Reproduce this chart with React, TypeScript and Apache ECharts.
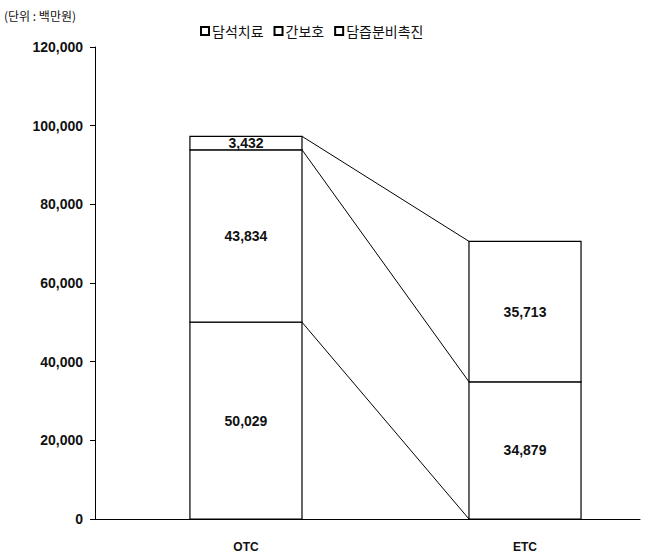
import { useEffect, useRef } from "react";
import * as echarts from "echarts";

const categories = ["OTC", "ETC"];
const seriesNames = ["담석치료", "간보호", "담즙분비촉진"];
const otcValues = [50029, 43834, 3432];
const etcValues = [34879, 35713, 0];
const barCenters = [0.277, 0.789];
const halfWidth = 0.1028;

const fmt = (v: number) => v.toLocaleString("en-US");

const App = () => {
  const ref = useRef<HTMLDivElement>(null);

  useEffect(() => {
    if (!ref.current) return;
    const chart = echarts.init(ref.current, null, { renderer: "svg" });

    const segments: number[][] = [];
    [otcValues, etcValues].forEach((vals, ci) => {
      let base = 0;
      vals.forEach((v, si) => {
        if (v > 0) segments.push([barCenters[ci], base, base + v, v, si]);
        base += v;
      });
    });
    const cum = (vals: number[], n: number) =>
      vals.slice(0, n).reduce((a, b) => a + b, 0);
    const links = [0, 1, 2].map((i) => [
      [barCenters[0] + halfWidth, cum(otcValues, i + 1)],
      [barCenters[1] - halfWidth, cum(etcValues, i)],
    ]);

    const font = "'Liberation Sans', Arial, sans-serif";

    chart.setOption({
      animation: false,
      backgroundColor: "#fff",
      grid: { left: 95, right: 13, top: 47, bottom: 41 },
      legend: {
        top: 19,
        left: 195,
        icon: "rect",
        itemWidth: 8,
        itemHeight: 8,
        itemGap: 10,
        textStyle: { fontFamily: "'Noto Sans CJK KR'", fontSize: 14, color: "#111", padding: [0, 0, 0, -2] },
        data: seriesNames,
      },
      graphic: [
        {
          type: "text",
          left: 4,
          top: 9,
          style: { text: "(단위 : 백만원)", fontFamily: "'Noto Sans CJK KR'", fontSize: 12, fill: "#111" },
        },
      ],
      xAxis: {
        type: "value",
        min: 0,
        max: 1,
        splitLine: { show: false },
        axisLine: { show: true, lineStyle: { color: "#000" } },
        axisTick: { show: false },
        axisLabel: {
          customValues: barCenters,
          formatter: (v: number) => categories[barCenters.indexOf(v)] ?? "",
          fontFamily: font,
          fontWeight: "bold",
          fontSize: 12,
          color: "#111",
          margin: 22,
        },
      },
      yAxis: {
        type: "value",
        min: 0,
        max: 120000,
        interval: 20000,
        splitLine: { show: false },
        axisLine: { show: true, lineStyle: { color: "#000" } },
        axisTick: { show: true, length: 5, lineStyle: { color: "#000" } },
        axisLabel: {
          formatter: (v: number) => fmt(v),
          fontFamily: font,
          fontWeight: "bold",
          fontSize: 14,
          color: "#111",
          margin: 12,
        },
      },
      series: [
        ...seriesNames.map((name) => ({
          name,
          type: "bar",
          data: [],
          itemStyle: { color: "#fff", borderColor: "#000", borderWidth: 1 },
        })),
        {
          type: "custom",
          silent: true,
          data: segments,
          encode: { x: 0, y: [1, 2] },
          renderItem: (_p: any, api: any) => {
            const xc = api.value(0);
            const p0 = api.coord([xc - halfWidth, api.value(2)]);
            const p1 = api.coord([xc + halfWidth, api.value(1)]);
            const v = api.value(3);
            return {
              type: "group",
              children: [
                {
                  type: "rect",
                  shape: { x: p0[0], y: p0[1], width: p1[0] - p0[0], height: p1[1] - p0[1] },
                  style: { fill: "#fff", stroke: "#000", lineWidth: 1.2 },
                },
                {
                  type: "text",
                  x: (p0[0] + p1[0]) / 2,
                  y: (p0[1] + p1[1]) / 2,
                  style: {
                    text: fmt(v),
                    align: "center",
                    verticalAlign: "middle",
                    fontFamily: font,
                    fontWeight: "bold",
                    fontSize: 14,
                    fill: "#111",
                  },
                },
              ],
            };
          },
        },
        ...links.map((d) => ({
          type: "line",
          data: d,
          symbol: "none",
          silent: true,
          lineStyle: { color: "#000", width: 1 },
        })),
      ],
    });

    return () => chart.dispose();
  }, []);

  return <div ref={ref} style={{ position: "fixed", top: 0, left: 0, width: 653, height: 560 }} />;
};

export default App;
